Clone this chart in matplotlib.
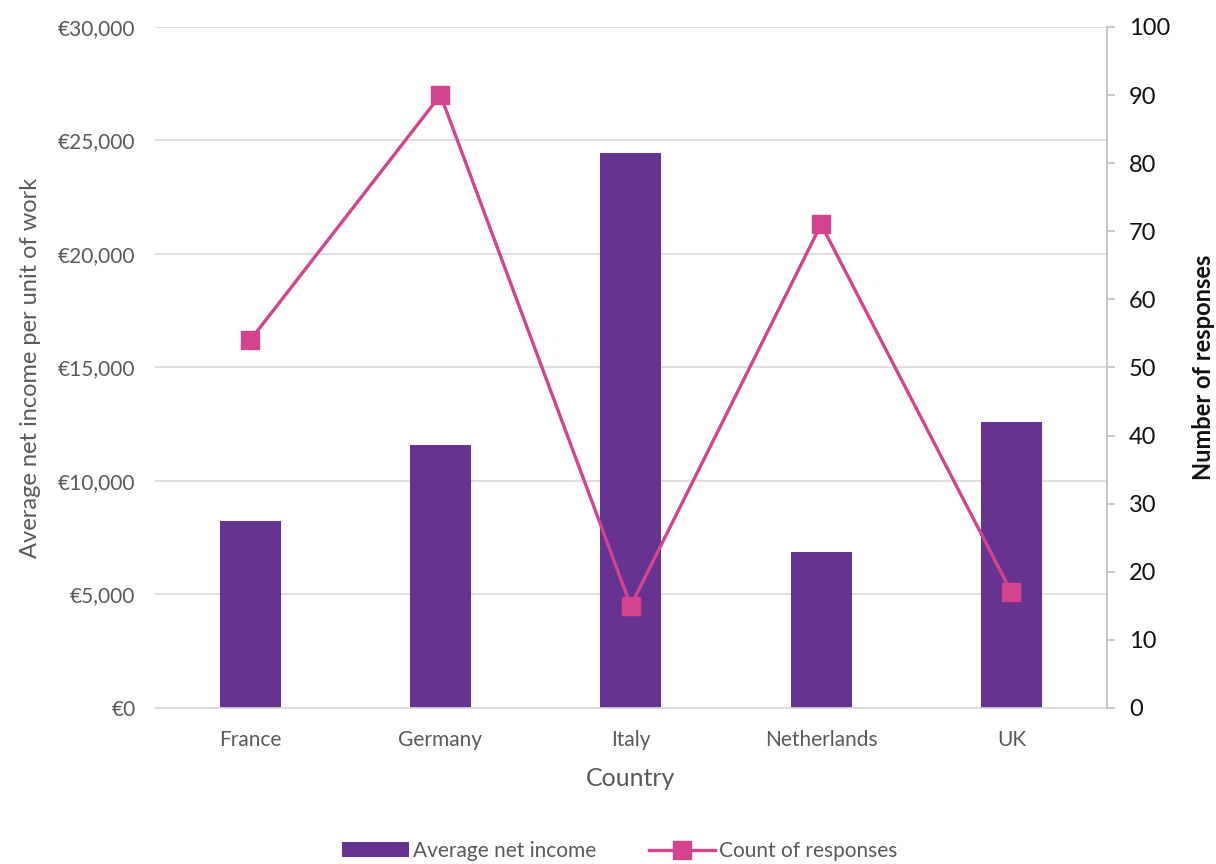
import matplotlib
matplotlib.use("Agg")
import matplotlib.pyplot as plt
from matplotlib.ticker import FuncFormatter, MultipleLocator

# ── Data ─────────────────────────────────────────────────────────────────
countries   = ["France", "Germany", "Italy", "Netherlands", "UK"]
avg_income  = [8250, 11600, 24450, 6870, 12600]
responses   = [54, 90, 15, 71, 17]

BAR_COLOR  = "#673391"
LINE_COLOR = "#d3438e"
GREY_TXT   = "#595959"

plt.rcParams["font.family"] = ["Lato", "DejaVu Sans"]

fig = plt.figure(figsize=(12.16, 8.64), dpi=100)
ax1 = fig.add_axes([0.1275, 0.1806, 0.7825, 0.7882])
ax2 = ax1.twinx()

x = list(range(len(countries)))
bars = ax1.bar(x, avg_income, width=0.32, color=BAR_COLOR, zorder=2,
               label="Average net income")
ax1.set_xlim(-0.5, len(countries) - 0.5)
ax1.set_ylim(0, 30000)
ax1.yaxis.set_major_locator(MultipleLocator(5000))
ax1.yaxis.set_major_formatter(FuncFormatter(lambda v, p: f"€{v:,.0f}"))
ax1.grid(axis="y", color="#d9d9d9", linewidth=1.2, zorder=0)
ax1.set_axisbelow(True)
ax1.set_xticks(x)
ax1.set_xticklabels(countries)
ax1.tick_params(axis="y", length=0, labelsize=15, colors=GREY_TXT, pad=14)
ax1.tick_params(axis="x", length=0, labelsize=15, colors=GREY_TXT, pad=16)
ax1.set_ylabel("Average net income per unit of work", fontsize=17,
               color=GREY_TXT, labelpad=12)
ax1.set_xlabel("Country", fontsize=18, color=GREY_TXT, labelpad=12)
for s in ["top", "left", "right"]:
    ax1.spines[s].set_visible(False)
ax1.spines["bottom"].set_color("#d9d9d9")
ax1.spines["bottom"].set_linewidth(1.2)

line, = ax2.plot(x, responses, color=LINE_COLOR, linewidth=2.4,
                 marker="s", markersize=13, zorder=3,
                 label="Count of responses")
ax2.set_ylim(0, 100)
ax2.yaxis.set_major_locator(MultipleLocator(10))
ax2.tick_params(axis="y", direction="out", length=6, width=1.2,
                color="#bfbfbf", labelsize=17, labelcolor="#111111", pad=10)
ax2.set_ylabel("Number of responses", fontsize=17, fontweight="bold",
               color="#111111", labelpad=16)
for s in ["top", "left", "bottom"]:
    ax2.spines[s].set_visible(False)
ax2.spines["right"].set_color("#bfbfbf")
ax2.spines["right"].set_linewidth(1.2)

fig.legend(handles=[bars, line], loc="lower center", ncol=2, frameon=False,
           fontsize=15, bbox_to_anchor=(0.51, -0.018), handlelength=3.2,
           columnspacing=2.5, labelcolor=GREY_TXT, handletextpad=0.2)

plt.savefig("out.png", dpi=100)
plt.close()
